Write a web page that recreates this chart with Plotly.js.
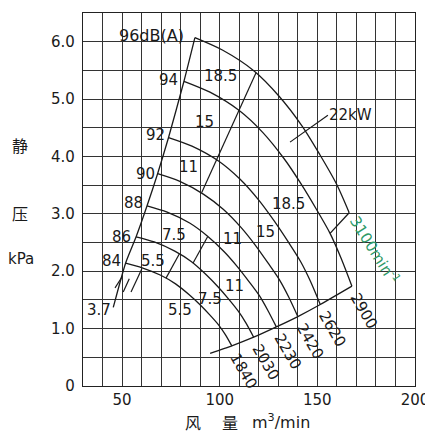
<!DOCTYPE html>
<html><head><meta charset="utf-8">
<script src="https://cdn.plot.ly/plotly-3.0.1.min.js"></script>
<style>html,body{margin:0;padding:0;background:#fff}#chart{width:425px;height:432px}</style>
</head><body><div id="chart"></div>
<script>
// ---- data ----
const speeds = ['1840','2030','2230','2420','2620','2900','3100'];
const noiseLevels = ['84','86','88','90','92','94','96dB(A)'];
const q1840 = [51.8,60.3,69.8,77.4,84.4,89.8,94.9,99.3,102.8,106.2];
const p1840 = [2.14,2.06,1.93,1.78,1.59,1.42,1.24,1.07,0.90,0.70];
const q2030 = [57.2,66.5,77.0,85.4,93.1,99.1,104.7,109.6,113.4,117.4];
const p2030 = [2.60,2.51,2.35,2.17,1.94,1.73,1.51,1.30,1.10,0.85];
const q2230 = [62.8,73.1,84.6,93.8,102.3,108.8,115.0,120.4,124.6,129.0];
const p2230 = [3.14,3.03,2.84,2.61,2.34,2.09,1.82,1.57,1.32,1.03];
const q2420 = [68.2,79.3,91.8,101.8,111.0,118.1,124.8,130.6,135.2,140.0];
const p2420 = [3.70,3.57,3.34,3.08,2.76,2.46,2.14,1.85,1.56,1.21];
const q2620 = [73.8,85.8,99.4,110.2,120.2,127.8,135.1,141.4,146.4,151.5];
const p2620 = [4.33,4.18,3.92,3.61,3.23,2.88,2.51,2.17,1.83,1.42];
const q2900 = [81.7,95.0,110.0,122.0,133.0,141.5,149.5,156.5,162.0,167.7];
const p2900 = [5.31,5.12,4.80,4.42,3.96,3.53,3.08,2.66,2.24,1.74];
const q3100 = [87.3,101.6,117.6,130.4,142.2,151.3,159.8,166.3];
const p3100 = [6.07,5.85,5.49,5.05,4.53,4.03,3.52,3.02];
const noiseTail = [45.5, 1.37];
const boundaryStart = [95.1, 0.57];
// motor power boundary lines (kW regions)
const lineAQ = [118.6,109.9,98.2,90.8];
const lineAP = [5.46,4.81,3.93,3.37];
const lineB1Q = [93.8,86.3], lineB1P = [2.60,2.14];
const lineB2Q = [79.3,72.5], lineB2P = [2.30,1.88];
const tickS1Q = [46.4,49.8], tickS1P = [1.71,1.89];
const tickS2Q = [50.6,53.7], tickS2P = [1.64,1.87];
const tickS3Q = [54.6,60.1], tickS3P = [1.64,2.04];
const lead22Q = [155.4,136.0], lead22P = [4.72,4.25];
const kwText = ['18.5','15','11','18.5','15','11','11','7.5','7.5','5.5','5.5','3.7'];
const kwQ = [100.2,92.0,83.8,135.0,123.2,106.8,107.8,76.6,95.0,65.8,79.7,38.2];
const kwP = [5.40,4.60,3.81,3.18,2.68,2.57,1.74,2.64,1.51,2.17,1.33,1.32];
const xTickVals = [30,40,50,60,70,80,90,100,110,120,130,140,150,160,170,180,190,200];
const xTickText = ['','','50','','','','','100','','','','','150','','','','','200'];
const yTickVals = [0,0.5,1,1.5,2,2.5,3,3.5,4,4.5,5,5.5,6,6.5];
const yTickText = ['0','','1.0','','2.0','','3.0','','4.0','','5.0','','6.0',''];

// ---- build ----
const curvesQ = [q1840,q2030,q2230,q2420,q2620,q2900,q3100];
const curvesP = [p1840,p2030,p2230,p2420,p2620,p2900,p3100];
const FONT = 'DejaVu Sans, Liberation Sans, sans-serif';
const CJK = 'Noto Sans CJK SC, sans-serif';
const ink = '#1a1a1a';
const traces = [];
curvesQ.forEach((q,i)=>{
  traces.push({x:q, y:curvesP[i], mode:'lines', line:{color:ink,width:1.3,shape:'spline',smoothing:0.8}, hoverinfo:'skip'});
});
const nQ = [noiseTail[0]].concat(curvesQ.map(q=>q[0]));
const nP = [noiseTail[1]].concat(curvesP.map(p=>p[0]));
traces.push({x:nQ, y:nP, mode:'lines', line:{color:ink,width:1.3,shape:'spline',smoothing:0.6}});
const bQ = [boundaryStart[0]].concat(curvesQ.slice(0,6).map(q=>q[q.length-1]));
const bP = [boundaryStart[1]].concat(curvesP.slice(0,6).map(p=>p[p.length-1]));
traces.push({x:bQ, y:bP, mode:'lines', line:{color:ink,width:1.3,shape:'spline',smoothing:0.5}});
traces.push({x:[q3100[q3100.length-1], q2900[7]], y:[p3100[p3100.length-1], p2900[7]], mode:'lines', line:{color:ink,width:1.3}});
[[lineAQ,lineAP],[lineB1Q,lineB1P],[lineB2Q,lineB2P],[tickS1Q,tickS1P],[tickS2Q,tickS2P],[tickS3Q,tickS3P],[lead22Q,lead22P]].forEach(([q,p])=>{
  traces.push({x:q, y:p, mode:'lines', line:{color:ink,width:1.2}});
});

const ann = [];
const noiseXShift = [-3,-3,-2,-1,-2,-4,-9];
const noiseYShift = [2,0,3,0,3,1,2];
curvesQ.forEach((q,i)=>{
  ann.push({x:q[0], y:curvesP[i][0], xref:'x', yref:'y', text:noiseLevels[i], showarrow:false,
    xanchor:'right', yanchor:'middle', xshift:noiseXShift[i], yshift:noiseYShift[i], font:{family:FONT,size:i===6?16:15,color:ink}});
});
curvesQ.forEach((q,i)=>{
  if (i===6) return;
  ann.push({x:q[q.length-1], y:curvesP[i][curvesP[i].length-1], xref:'x', yref:'y', text:speeds[i], showarrow:false,
    textangle:60, xanchor:'left', yanchor:'top', xshift:-8, yshift:-1, font:{family:FONT,size:15,color:ink}});
});
ann.push({x:q3100[q3100.length-1], y:p3100[p3100.length-1], xref:'x', yref:'y', text:speeds[6]+'min<sup>-1</sup>', showarrow:false,
  textangle:58, xanchor:'left', yanchor:'top', xshift:-6, yshift:3, font:{family:FONT,size:15,color:'#2f9a68'}});
kwText.forEach((t,i)=>{
  ann.push({x:kwQ[i], y:kwP[i], xref:'x', yref:'y', text:t, showarrow:false, xanchor:'center', yanchor:'middle',
    font:{family:FONT,size:15,color:ink}});
});
ann.push({x:lead22Q[0], y:lead22P[0], xref:'x', yref:'y', text:'22kW', showarrow:false, xanchor:'left', yanchor:'middle',
  xshift:-1, font:{family:FONT,size:15,color:ink}});
// axis titles
const t = (x,y,text,font,size)=>({x:x, y:y, xref:'paper', yref:'paper', text:text, showarrow:false,
  xanchor:'center', yanchor:'middle', font:{family:font,size:size,color:ink}});
ann.push(t(-0.19, 0.645, '静', CJK, 16));
ann.push(t(-0.19, 0.4625, '压', CJK, 16));
ann.push(t(-0.187, 0.3418, 'kPa', FONT, 15));
ann.push(t(0.3328, -0.0952, '风', CJK, 16));
ann.push(t(0.4428, -0.0952, '量', CJK, 16));
ann.push(t(0.5964, -0.0952, 'm<sup>3</sup>/min', FONT, 16));

const layout = {
  width:425, height:432,
  margin:{l:83, r:10, t:13, b:46},
  paper_bgcolor:'#fff', plot_bgcolor:'#fff',
  showlegend:false,
  font:{family:FONT, size:15, color:ink},
  xaxis:{range:[30,200], tickmode:'array', tickvals:xTickVals, ticktext:xTickText,
    showgrid:true, gridcolor:'#333', gridwidth:1, zeroline:false, showline:true, linecolor:'#222', linewidth:1.2, mirror:true,
    ticks:'', ticklabelstandoff:0, ticklabeloverflow:'allow', tickfont:{family:FONT,size:15,color:ink}, fixedrange:true},
  yaxis:{range:[0,6.5], tickmode:'array', tickvals:yTickVals, ticktext:yTickText,
    showgrid:true, gridcolor:'#333', gridwidth:1, zeroline:false, showline:true, linecolor:'#222', linewidth:1.2, mirror:true,
    ticks:'', ticklabelstandoff:4, tickfont:{family:FONT,size:15,color:ink}, fixedrange:true},
  annotations:ann
};
Plotly.newPlot('chart', traces, layout, {staticPlot:true, displayModeBar:false});
</script></body></html>
